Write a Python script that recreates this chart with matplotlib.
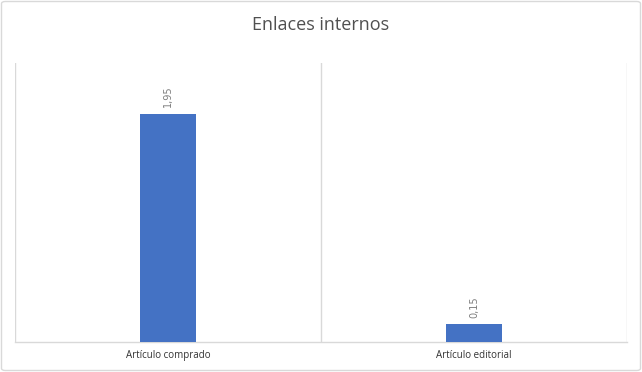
import matplotlib
matplotlib.use("Agg")
import matplotlib.pyplot as plt
from matplotlib.patches import FancyBboxPatch

categories = ["Artículo comprado", "Artículo editorial"]
values = [1.95, 0.15]
value_labels = ["1,95", "0,15"]
title = "Enlaces internos"

W, H = 642, 372
fig = plt.figure(figsize=(W / 100, H / 100), dpi=100)
fig.patch.set_facecolor("white")

# outer border
border = FancyBboxPatch((1.5 / W, 1.5 / H), (W - 3) / W, (H - 3) / H,
                        boxstyle="round,pad=0,rounding_size=0.006",
                        transform=fig.transFigure, fill=False,
                        edgecolor="#d9d9d9", linewidth=1.0)
fig.patches.append(border)

left, right, top, bottom = 15, 627, 63, 342
ax = fig.add_axes([left / W, 1 - bottom / H, (right - left) / W, (bottom - top) / H])

x = list(range(len(categories)))
ax.bar(x, values, width=0.183, color="#4472c4", zorder=3)
ax.set_xlim(-0.5, len(categories) - 0.5)
ax.set_ylim(0, 2.39)

for xi in [i - 0.5 for i in range(len(categories) + 1)]:
    ax.axvline(xi, color="#d9d9d9", linewidth=1.0, zorder=1)

for s in ["top", "right", "left"]:
    ax.spines[s].set_visible(False)
ax.spines["bottom"].set_color("#d9d9d9")
ax.spines["bottom"].set_linewidth(1.0)
ax.set_yticks([])
ax.set_xticks(x)
ax.set_xticklabels(categories, fontsize=7, color="#333333", family="Open Sans")
ax.tick_params(axis="x", length=0, pad=6)

for xi, v, lab in zip(x, values, value_labels):
    ax.annotate(lab, (xi, v), xytext=(0, 5), textcoords="offset points",
                rotation=90, ha="center", va="bottom", fontsize=7,
                color="#7f7f7f", family="DejaVu Sans")

fig.text(0.5, 1 - 25 / H, title, ha="center", va="center", fontsize=13,
         color="#505050", family="Open Sans")

fig.savefig("out.png", dpi=100, facecolor="white")
